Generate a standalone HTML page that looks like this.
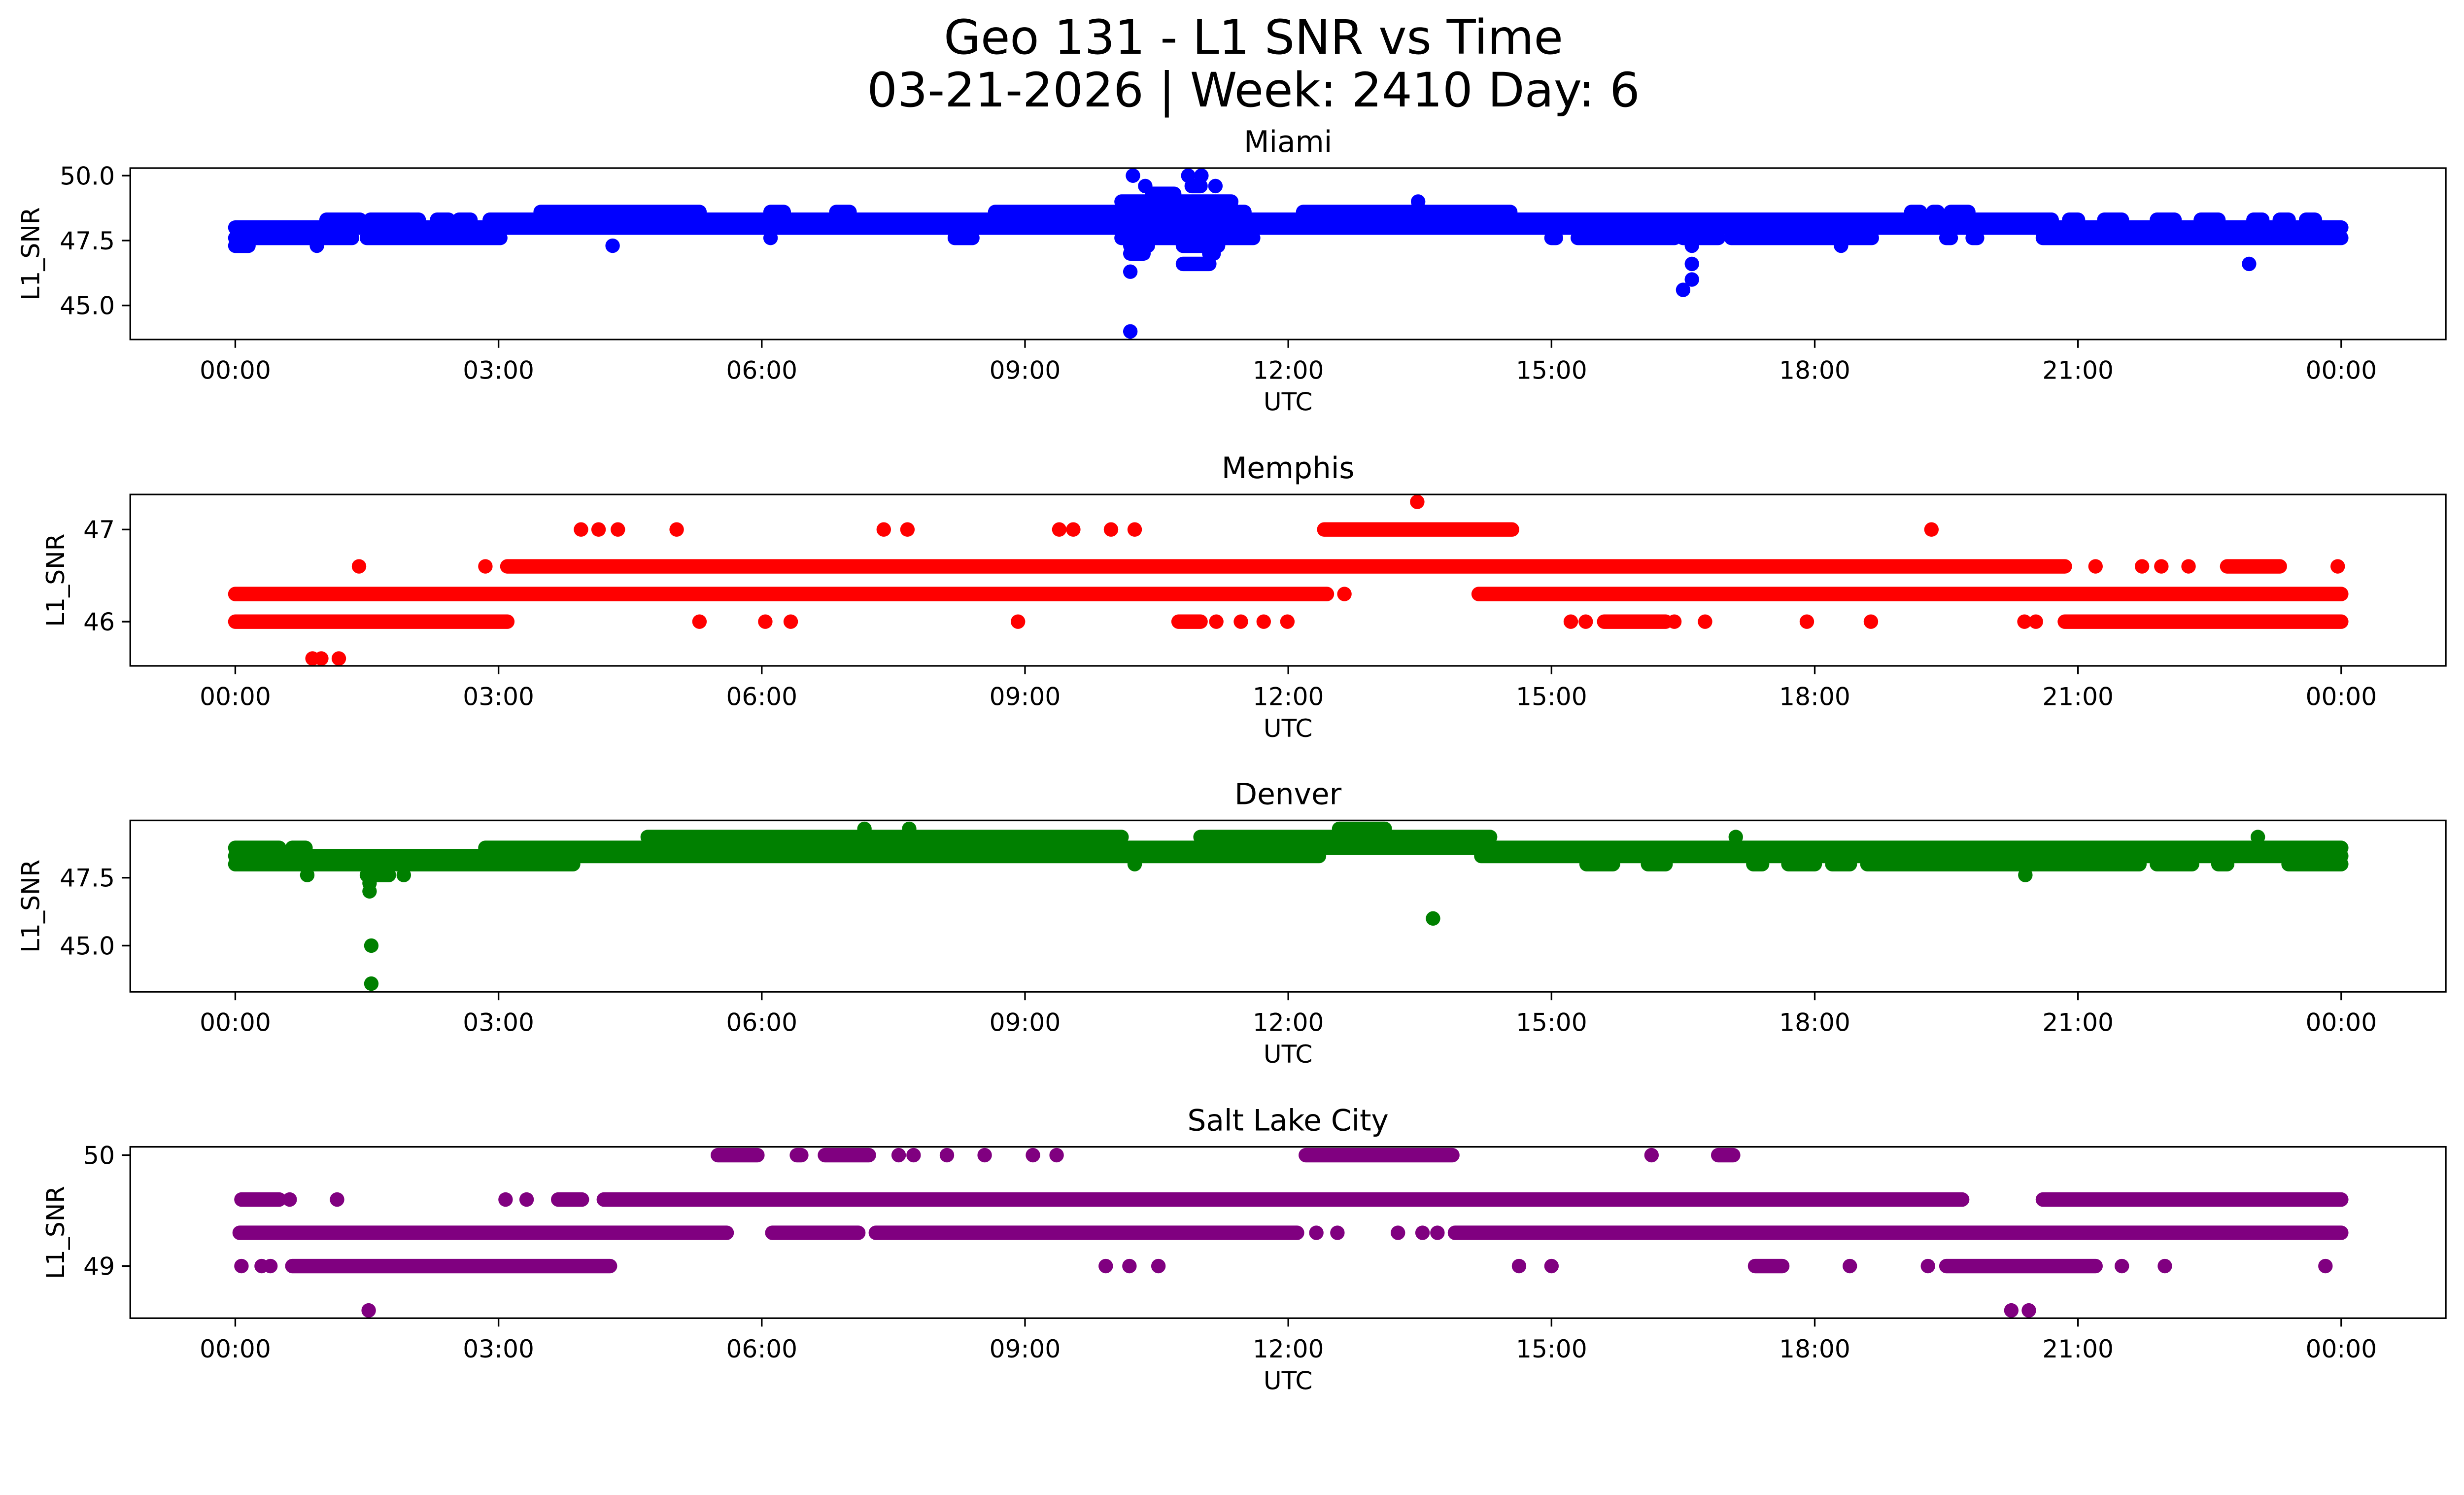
<!DOCTYPE html>
<html><head><meta charset="utf-8">
<style>
html,body{margin:0;padding:0;background:#fff;overflow:hidden;}
svg{display:block;width:100vw;height:calc(100vw * 3033 / 5278);}
text{font-family:"DejaVu Sans","Liberation Sans",sans-serif;fill:#000;}
</style></head>
<body>
<svg id="fig" viewBox="0 0 5278 3033" preserveAspectRatio="none" xmlns="http://www.w3.org/2000/svg">
<rect width="5278" height="3033" fill="#fff"/>
<text x="2685" y="115" font-size="102" text-anchor="middle">Geo 131 - L1 SNR vs Time</text>
<text x="2685" y="228" font-size="102" text-anchor="middle">03-21-2026 | Week: 2410 Day: 6</text>
<g id="plots"></g>
</svg>
<script>
// ---- shared axis data ----
const xTickHours = [0,3,6,9,12,15,18,21,24];
const xTickLabels = ["00:00","03:00","06:00","09:00","12:00","15:00","18:00","21:00","00:00"];

// ---- Miami (runs of dense points: level, start hour, end hour) ----
const miamiLevel = [48.0, 48.3,48.3,48.3,48.3,48.3,48.3,48.3,48.3,48.3,48.3,48.3,48.3,
  48.6,48.6,48.6,48.6,48.6,48.6,48.6,48.6, 49.0,
  47.6,47.6,47.6,47.6,47.6,47.6,47.6,47.6,47.6,47.6,47.6,47.6,
  47.3,47.3,47.3,47.3,47.3,
  48.6,49.0,49.3,49.6,49.6,49.6,50.0,50.0,50.0,47.3,47.3,47.0,47.0,46.6,
  46.3,44.0,46.6,46.0,45.6,46.6];
const miamiStart = [0, 1.04,1.54,2.30,2.55,2.9,20.9,21.3,21.9,22.4,23.0,23.3,23.6,
  3.48,6.1,6.85,8.66,12.17,19.1,19.35,19.55, 13.48,
  0,1.5,6.1,8.2,10.1,15.0,15.3,16.5,17.05,19.5,19.8,20.6,
  0,0.93,4.3,16.6,18.3,
  10.09,10.1,10.45,10.37,10.9,11.17,10.23,10.86,11.01,10.2,10.8,10.2,11.1,10.8,
  10.2,10.2,16.6,16.6,16.5,22.95];
const miamiEnd = [24, 1.42,2.09,2.43,2.68,20.7,21.0,21.5,22.1,22.6,23.1,23.4,23.7,
  5.29,6.25,7.0,10.09,14.53,19.2,19.4,19.75, 13.48,
  1.33,3.02,6.1,8.4,11.6,15.05,16.4,16.9,18.65,19.55,19.85,24,
  0.15,0.93,4.3,16.6,18.3,
  11.5,11.35,10.7,10.37,11.0,11.17,10.23,10.86,11.01,10.4,11.2,10.35,11.15,11.1,
  10.2,10.2,16.6,16.6,16.5,22.95];

// ---- Memphis ----
const memphisLevel = [47.3, 47.0,47.0,47.0,47.0,47.0,47.0,47.0,47.0,47.0,47.0,47.0,47.0,
  46.6,46.6,46.6,46.6,46.6,46.6,46.6,46.6,46.6,
  46.3,46.3,46.3,
  46.0,46.0,46.0,46.0,46.0,46.0,46.0,46.0,46.0,46.0,46.0,46.0,46.0,46.0,46.0,46.0,46.0,46.0,46.0,46.0,
  45.6,45.6,45.6];
const memphisStart = [13.47, 3.94,4.14,4.36,5.03,7.39,7.66,9.39,9.55,9.98,10.25,12.41,19.33,
  1.41,2.85,3.1,21.2,21.73,21.95,22.26,22.7,23.96,
  0,12.64,14.17,
  0,5.29,6.04,6.33,8.92,10.75,11.18,11.46,11.72,11.99,15.22,15.39,15.6,16.75,17.91,18.64,20.39,20.52,20.85,16.4,
  0.88,0.98,1.18];
const memphisEnd = [13.47, 3.94,4.14,4.36,5.03,7.39,7.66,9.39,9.55,9.98,10.25,14.55,19.33,
  1.41,2.85,20.85,21.2,21.73,21.95,22.26,23.3,23.96,
  12.44,12.64,24,
  3.1,5.29,6.04,6.33,8.92,11.0,11.18,11.46,11.72,11.99,15.22,15.39,16.3,16.75,17.91,18.64,20.39,20.52,24,16.4,
  0.88,0.98,1.18];

// ---- Denver ----
const denverLevel = [48.6,48.6,48.6, 48.3,48.3,
  48.0,48.0,48.0,48.0,48.0,48.0,48.0,48.0,48.0,48.0,48.0,
  49.0,49.0,49.0,49.0, 49.3,49.3,49.3,
  47.6,47.6,47.6,47.6,47.3,47.0,46.0,45.0,43.6];
const denverStart = [0,0.65,2.85, 0,14.2,
  0,10.25,15.4,16.1,17.3,17.7,18.2,18.6,21.9,22.6,23.4,
  4.7,11.0,17.1,23.05, 7.17,7.68,12.58,
  0.82,1.5,1.92,20.4,1.53,1.53,13.65,1.55,1.55];
const denverEnd = [0.5,0.8,24, 12.35,24,
  3.85,10.25,15.7,16.3,17.4,18.0,18.4,21.7,22.3,22.7,24,
  10.1,14.3,17.1,23.05, 7.17,7.68,13.1,
  0.82,1.75,1.92,20.4,1.53,1.53,13.65,1.55,1.55];

// ---- Salt Lake City ----
const slcLevel = [50.0,50.0,50.0,50.0,50.0,50.0,50.0,50.0,50.0,50.0,50.0,50.0,
  49.6,49.6,49.6,49.6,49.6,49.6,49.6,49.6,
  49.3,49.3,49.3,49.3,49.3,49.3,49.3,49.3,49.3,
  49.0,49.0,49.0,49.0,49.0,49.0,49.0,49.0,49.0,49.0,49.0,49.0,49.0,49.0,49.0,49.0,
  48.6,48.6,48.6];
const slcStart = [5.5,6.4,6.72,7.56,7.73,8.11,8.54,9.09,9.36,12.2,16.14,16.9,
  0.07,0.62,1.16,3.08,3.32,3.68,4.2,20.6,
  0.05,6.12,7.3,12.32,12.56,13.25,13.53,13.7,13.9,
  0.07,0.3,0.4,0.65,9.92,10.19,10.52,14.63,15.0,18.4,19.29,19.5,21.5,21.99,23.82,17.32,
  1.52,20.24,20.44];
const slcEnd = [5.95,6.45,7.22,7.56,7.73,8.11,8.54,9.09,9.36,13.87,16.14,17.07,
  0.5,0.62,1.16,3.08,3.32,3.95,19.68,24,
  5.6,7.1,12.1,12.32,12.56,13.25,13.53,13.7,24,
  0.07,0.3,0.4,4.27,9.92,10.19,10.52,14.63,15.0,18.4,19.29,21.2,21.5,21.99,23.82,17.63,
  1.52,20.24,20.44];

// ---- y axis ticks per panel ----
const miamiYTicks = [45.0,47.5,50.0];
const miamiYLabels = ["45.0","47.5","50.0"];
const memphisYTicks = [46,47];
const memphisYLabels = ["46","47"];
const denverYTicks = [45.0,47.5];
const denverYLabels = ["45.0","47.5"];
const slcYTicks = [49,50];
const slcYLabels = ["49","50"];

const NS = "http://www.w3.org/2000/svg";
const plots = document.getElementById('plots');
const L = 279, R = 5239, H = 367;
const X0 = 504, X24 = 5015;
function xScale(h){ return X0 + h*(X24-X0)/24; }

function mk(tag, attrs, parent){
  const e = document.createElementNS(NS, tag);
  for (const k in attrs) e.setAttribute(k, attrs[k]);
  parent.appendChild(e);
  return e;
}

function panel(key, title, color, top, ymin, ymax, yTicks, yLabels, ylabX, lev, st, en){
  const g = mk('g', {}, plots);
  
  
  const yScale = v => top + H - (v - ymin) * H / (ymax - ymin);
  const bottom = top + H;
  const pts = mk('g', {}, g);
  
  
  for (let i = 0; i < lev.length; i++){
    const y = yScale(lev[i]);
    const ln = mk('line', {x1: xScale(st[i]), x2: xScale(en[i]) + 0.01, y1: y, y2: y,
      stroke: color, 'stroke-width': 31, 'stroke-linecap': 'round'}, pts);
    
    
  }
  const fr = mk('rect', {x: L, y: top, width: R - L, height: H, fill: 'none', stroke: '#000', 'stroke-width': 3.5}, g);
  
  
  for (let i = 0; i < xTickHours.length; i++){
    const x = xScale(xTickHours[i]);
    const t = mk('line', {x1: x, x2: x, y1: bottom, y2: bottom + 18, stroke: '#000', 'stroke-width': 3.5}, g);
    
    
    const tx = mk('text', {x: x, y: bottom + 84, 'font-size': 53, 'text-anchor': 'middle'}, g);
    tx.textContent = xTickLabels[i];
    
    
  }
  for (let i = 0; i < yTicks.length; i++){
    const y = yScale(yTicks[i]);
    const t = mk('line', {x1: L - 18, x2: L, y1: y, y2: y, stroke: '#000', 'stroke-width': 3.5}, g);
    
    
    const tx = mk('text', {x: L - 33, y: y + 19, 'font-size': 53, 'text-anchor': 'end'}, g);
    tx.textContent = yLabels[i];
    
    
  }
  const xl = mk('text', {x: (L + R) / 2, y: bottom + 152, 'font-size': 53, 'text-anchor': 'middle'}, g);
  xl.textContent = 'UTC';
  
  
  const cy = top + H / 2;
  const yl = mk('text', {x: ylabX, y: cy, 'font-size': 53, 'text-anchor': 'middle', transform: 'rotate(-90 ' + ylabX + ' ' + cy + ')'}, g);
  yl.textContent = 'L1_SNR';
  
  
  const tt = mk('text', {x: (L + R) / 2, y: top - 35, 'font-size': 63, 'text-anchor': 'middle'}, g);
  tt.textContent = title;
  
  
}

panel('miami', 'Miami', '#0000ff', 360, 43.69, 50.29, miamiYTicks, miamiYLabels, 84, miamiLevel, miamiStart, miamiEnd);
panel('memphis', 'Memphis', '#ff0000', 1059, 45.52, 47.38, memphisYTicks, memphisYLabels, 137, memphisLevel, memphisStart, memphisEnd);
panel('denver', 'Denver', '#008000', 1757, 43.30, 49.61, denverYTicks, denverYLabels, 84, denverLevel, denverStart, denverEnd);
panel('salt-lake-city', 'Salt Lake City', '#800080', 2456, 48.53, 50.075, slcYTicks, slcYLabels, 137, slcLevel, slcStart, slcEnd);
</script>
</body></html>
